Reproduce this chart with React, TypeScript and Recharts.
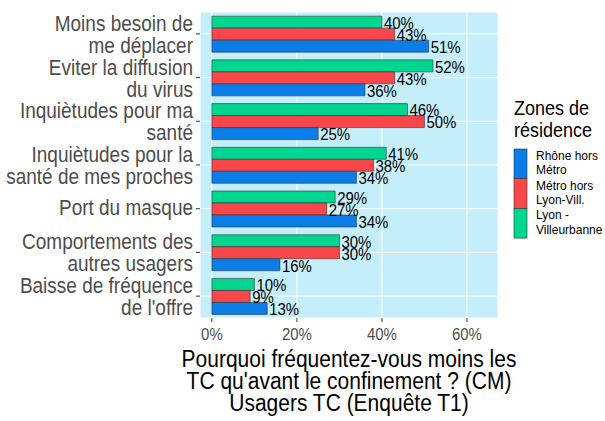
import React from "react";
import { Bar, BarChart, CartesianGrid, LabelList, XAxis, YAxis } from "recharts";

// Catégories (les retours à la ligne sont ceux du graphique d'origine)
const categories = [
  "Moins besoin de\nme déplacer",
  "Eviter la diffusion\ndu virus",
  "Inquiètudes pour ma\nsanté",
  "Inquiètudes pour la\nsanté de mes proches",
  "Port du masque",
  "Comportements des\nautres usagers",
  "Baisse de fréquence\nde l'offre",
];

// % par zone de résidence
const lyonVilleurbanne = [40, 52, 46, 41, 29, 30, 10];
const metroHorsLyonVill = [43, 43, 50, 38, 27, 30, 9];
const rhoneHorsMetro = [51, 36, 25, 34, 34, 16, 13];

const xTicks = [0, 20, 40, 60];

const legendTitle = ["Zones de", "résidence"];
const legendItems = [
  { lines: ["Rhône hors", "Métro"], color: "#0B7DE6" },
  { lines: ["Métro hors", "Lyon-Vill."], color: "#F8464B" },
  { lines: ["Lyon -", "Villeurbanne"], color: "#00D68F" },
];

const titleLines = [
  "Pourquoi fréquentez-vous moins les",
  "TC qu'avant le confinement ? (CM)",
  "Usagers TC (Enquête T1)",
];

const data = categories.map((name, i) => ({
  name,
  lyon: lyonVilleurbanne[i],
  metro: metroHorsLyonVill[i],
  rhone: rhoneHorsMetro[i],
}));

const FONT = "'Liberation Sans', Arial, sans-serif";
const STRETCH = 1.12; // le png d'origine est un peu étiré en hauteur

// étire verticalement autour de la ligne y
const stretchAt = (y: number) => `translate(0 ${y}) scale(1 ${STRETCH}) translate(0 ${-y})`;

const CategoryTick = (props: any) => {
  const { y, payload } = props;
  const lines = String(payload.value).split("\n");
  const first = lines.length === 1 ? 6 : -3;
  return (
    <g transform={stretchAt(y)}>
      <text x={193} y={y} textAnchor="end" fill="#4D4D4D" fontSize={19} fontFamily={FONT}>
        {lines.map((l, i) => (
          <tspan key={i} x={193} y={y + (first + i * 22) / STRETCH}>
            {l}
          </tspan>
        ))}
      </text>
    </g>
  );
};

const XTick = (props: any) => {
  const { x, y, payload } = props;
  const by = y + 11;
  return (
    <text x={x} y={by} textAnchor="middle" fill="#4D4D4D" fontSize={15} fontFamily={FONT} transform={stretchAt(by)}>
      {`${payload.value}%`}
    </text>
  );
};

const BarValue = (props: any) => {
  const { x, y, width, height, value } = props;
  const cy = y + height / 2 + 1;
  return (
    <text
      x={x + width + 2}
      y={cy}
      dominantBaseline="central"
      fill="#000"
      fontSize={15}
      fontFamily={FONT}
      transform={stretchAt(cy)}
    >
      {`${value}%`}
    </text>
  );
};

export default function App() {
  return (
    <div style={{ position: "absolute", left: 0, top: 0, width: 605, height: 421, background: "#fff" }}>
      <BarChart
        width={605}
        height={421}
        data={data}
        layout="vertical"
        margin={{ top: 12, right: 107, bottom: 73, left: 0 }}
        barCategoryGap="9.5%"
        barGap={0}
        style={{ fontFamily: FONT }}
      >
        <CartesianGrid fill="#C5EEFB" fillOpacity={1} stroke="#FFFFFF" strokeWidth={1} />
        <XAxis
          type="number"
          domain={[-2.8, 67.3]}
          ticks={xTicks}
          axisLine={false}
          tickLine={{ stroke: "#333333" }}
          tickSize={4}
          tickMargin={7}
          height={30}
          tick={<XTick />}
          allowDataOverflow
        />
        <YAxis
          type="category"
          dataKey="name"
          width={200}
          axisLine={false}
          tickLine={{ stroke: "#333333" }}
          tickSize={4}
          tick={<CategoryTick />}
          interval={0}
        />
        <Bar dataKey="lyon" fill="#00D68F" stroke="#333333" strokeWidth={0.6} isAnimationActive={false}>
          <LabelList dataKey="lyon" content={<BarValue />} />
        </Bar>
        <Bar dataKey="metro" fill="#F8464B" stroke="#333333" strokeWidth={0.6} isAnimationActive={false}>
          <LabelList dataKey="metro" content={<BarValue />} />
        </Bar>
        <Bar dataKey="rhone" fill="#0B7DE6" stroke="#333333" strokeWidth={0.6} isAnimationActive={false}>
          <LabelList dataKey="rhone" content={<BarValue />} />
        </Bar>
      </BarChart>

      <svg width={605} height={421} style={{ position: "absolute", left: 0, top: 0, pointerEvents: "none" }} fontFamily={FONT}>
        {titleLines.map((t, i) => (
          <text key={t} x={349} y={367 + i * 22} textAnchor="middle" fontSize={21} fill="#000" transform={stretchAt(367 + i * 22)}>
            {t}
          </text>
        ))}
        {legendTitle.map((t, i) => (
          <text key={t} x={514} y={115 + i * 22} fontSize={18} fill="#000" transform={stretchAt(115 + i * 22)}>
            {t}
          </text>
        ))}
        {legendItems.map((it, i) => (
          <g key={i}>
            <rect x={514} y={149 + i * 29.7} width={13} height={29.7} fill={it.color} stroke="#333" strokeWidth={0.6} />
            {it.lines.map((l, j) => (
              <text
                key={l}
                x={536}
                y={160 + i * 29.7 + j * 14.5}
                fontSize={12}
                fill="#000"
                transform={stretchAt(160 + i * 29.7 + j * 14.5)}
              >
                {l}
              </text>
            ))}
          </g>
        ))}
      </svg>
    </div>
  );
}
